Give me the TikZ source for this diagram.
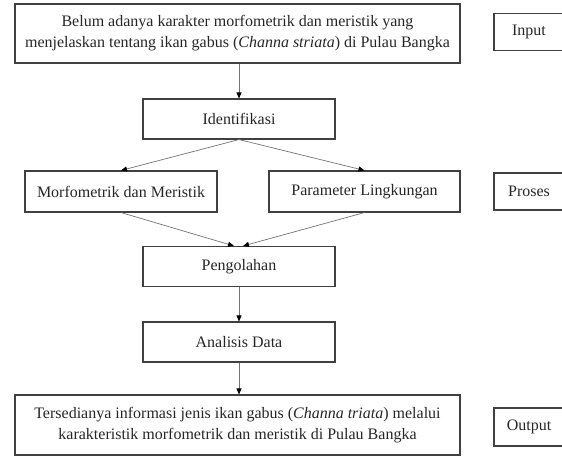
\documentclass[tikz,border=0pt]{standalone}
\usepackage{fontspec}
\setmainfont{Liberation Serif}
\usetikzlibrary{arrows.meta}

\begin{document}
\begin{tikzpicture}[x=1pt,y=-1pt,
    kotak/.style={draw=black!75,line width=1.1pt,align=center,inner sep=0pt,
      font=\fontsize{16}{21}\selectfont,text=black!85},
    panah/.style={draw=black!55,line width=0.7pt,-{Triangle[length=6pt,width=5pt,color=black]}}]
  \useasboundingbox (0,0) rectangle (562,457);

  %% alur utama
  \node[kotak,minimum width=445pt,minimum height=59pt] (masalah) at (237.5,33.5)
    {Belum adanya karakter morfometrik dan meristik yang\\
     menjelaskan tentang ikan gabus (\textit{Channa striata}) di Pulau Bangka};
  \node[kotak,minimum width=192pt,minimum height=40pt] (identifikasi) at (239,119) {Identifikasi};
  \node[kotak,minimum width=192pt,minimum height=41pt] (morfo) at (121,191.5) {Morfometrik dan Meristik};
  \node[kotak,minimum width=191pt,minimum height=41pt] (param) at (364.5,191.5) {Parameter Lingkungan};
  \node[kotak,minimum width=192pt,minimum height=40pt] (olah) at (239,266.5) {Pengolahan};
  \node[kotak,minimum width=192pt,minimum height=40pt] (analisis) at (239,342) {Analisis Data};
  \node[kotak,minimum width=445pt,minimum height=60pt] (hasil) at (237.5,425)
    {Tersedianya informasi jenis ikan gabus (\textit{Channa triata}) melalui\\
     karakteristik morfometrik dan meristik di Pulau Bangka};

  %% keterangan tahap
  \node[kotak,minimum width=70pt,minimum height=37pt] (input) at (529,32) {Input};
  \node[kotak,minimum width=70pt,minimum height=37pt] (proses) at (529,191.5) {Proses};
  \node[kotak,minimum width=70pt,minimum height=38pt] (output) at (529,427) {Output};

  %% panah
  \draw[panah] (masalah.south -| identifikasi.north) -- (identifikasi.north);
  \draw[panah] (identifikasi.south) -- (morfo.north);
  \draw[panah] (identifikasi.south) -- (param.north);
  \draw[panah] (morfo.south) -- ([xshift=-5pt]olah.north);
  \draw[panah] (param.south) -- ([xshift=4pt]olah.north);
  \draw[panah] (olah) -- (analisis);
  \draw[panah] (analisis.south) -- (hasil.north -| analisis.south); % ke output
\end{tikzpicture}
\end{document}
